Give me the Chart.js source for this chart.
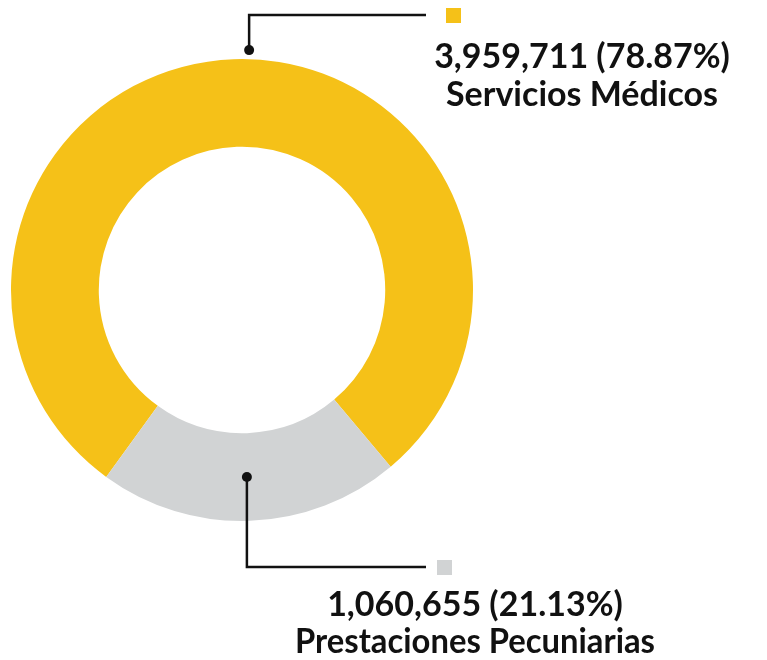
<!DOCTYPE html>
<html>
<head>
<meta charset="utf-8">
<script src="https://cdn.jsdelivr.net/npm/chart.js@4/dist/chart.umd.min.js"></script>
<style>
  html, body { margin: 0; padding: 0; background: #fff; }
  #wrap { width: 767px; height: 660px; }
</style>
</head>
<body>
<div id="wrap"><canvas id="donut" width="767" height="660"></canvas></div>
<script>
// data
const categories = ["Servicios Médicos", "Prestaciones Pecuniarias"];
const values = [3959711, 1060655];
const percents = ["78.87%", "21.13%"];
const colors = ["#F5C118", "#D1D3D4"];

const fmt = n => n.toLocaleString("en-US");

// callout lines + labels
const callouts = {
  id: "callouts",
  afterDatasetsDraw(chart) {
    const ctx = chart.ctx;
    const arcs = chart.getDatasetMeta(0).data;
    const cx = arcs[0].x, cy = arcs[0].y;
    const outer = arcs[0].outerRadius, inner = arcs[0].innerRadius;

    // where each leader starts (angle from top, clockwise) and how far out
    const spots = [
      { ang: 1.7, r: outer + 9, turnY: 15, endX: 426, sq: [446, 8], text: [582, 68, 106] },
      { ang: 178.5, r: (outer + inner) / 2, turnY: 567, endX: 426, sq: [437, 560], text: [475, 616, 653] }
    ];

    ctx.save();
    spots.forEach((s, i) => {
      const a = (s.ang - 90) * Math.PI / 180;
      const px = cx + s.r * Math.cos(a), py = cy + s.r * Math.sin(a);
      ctx.strokeStyle = "#111";
      ctx.lineWidth = 2.5;
      ctx.beginPath();
      ctx.moveTo(px, py);
      ctx.lineTo(px, s.turnY);
      ctx.lineTo(s.endX, s.turnY);
      ctx.stroke();
      ctx.fillStyle = "#111";
      ctx.beginPath();
      ctx.arc(px, py, 5, 0, Math.PI * 2);
      ctx.fill();

      ctx.fillStyle = colors[i];
      ctx.fillRect(s.sq[0], s.sq[1], 15, 15);

      ctx.fillStyle = "#111";
      ctx.textAlign = "center";
      ctx.textBaseline = "alphabetic";
      ctx.font = "bold 34px Lato";
      ctx.fillText(fmt(values[i]) + " (" + percents[i] + ")", s.text[0], s.text[1]);
      ctx.fillText(categories[i], s.text[0], s.text[2], 360);
    });
    ctx.restore();
  }
};

new Chart(document.getElementById("donut"), {
  type: "doughnut",
  data: {
    labels: categories,
    datasets: [{
      data: values,
      backgroundColor: colors,
      borderWidth: 0,
      hoverOffset: 0
    }]
  },
  options: {
    responsive: false,
    animation: false,
    cutout: "62%",
    rotation: 216,
    layout: { padding: { left: 11, top: 59, right: 294, bottom: 139 } },
    plugins: {
      legend: { display: false },
      tooltip: { enabled: false }
    }
  },
  plugins: [callouts]
});
</script>
</body>
</html>
